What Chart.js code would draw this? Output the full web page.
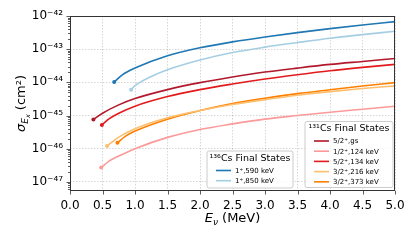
<!DOCTYPE html>
<html>
<head>
<meta charset="utf-8">
<script src="https://cdn.jsdelivr.net/npm/chart.js@4/dist/chart.umd.min.js"></script>
<style>
    html, body { margin: 0; padding: 0; background: #fff; }
    #wrap { width: 416px; height: 240px; position: relative; }
</style>
</head>
<body>
<div id="wrap"><canvas id="xsec" width="416" height="240"></canvas></div>
<script>
// neutrino energy (MeV) and cross sections (cm^2)
const energy590 = [0.68, 0.8, 1.0, 1.5, 2.0, 2.5, 3.0, 3.5, 4.0, 4.5, 5.0];
const sigma590 = [1.02e-44, 1.66e-44, 2.69e-44, 6.3e-44, 1.1e-43, 1.66e-43, 2.34e-43, 3.16e-43, 4.17e-43, 5.37e-43, 6.76e-43];
const energy850 = [0.94, 1.0, 1.25, 1.5, 2.0, 2.5, 3.0, 3.5, 4.0, 4.5, 5.0];
const sigma850 = [6.0e-45, 7.9e-45, 1.5e-44, 2.4e-44, 4.7e-44, 7.9e-44, 1.15e-43, 1.58e-43, 2.14e-43, 2.75e-43, 3.47e-43];
const energyGs = [0.36, 0.5, 0.75, 1.0, 1.5, 2.0, 2.5, 3.0, 3.5, 4.0, 4.5, 5.0];
const sigmaGs = [7.6e-46, 1.17e-45, 2.09e-45, 3.24e-45, 6.03e-45, 9.8e-45, 1.45e-44, 2.04e-44, 2.69e-44, 3.47e-44, 4.27e-44, 5.25e-44];
const energy124 = [0.48, 0.6, 0.75, 1.0, 1.5, 2.0, 2.5, 3.0, 3.5, 4.0, 4.5, 5.0];
const sigma124 = [2.7e-47, 4.2e-47, 6.0e-47, 1.0e-46, 2.19e-46, 3.8e-46, 5.6e-46, 7.8e-46, 1.0e-45, 1.26e-45, 1.55e-45, 1.9e-45];
const energy134 = [0.49, 0.6, 0.75, 1.0, 1.5, 2.0, 2.5, 3.0, 3.5, 4.0, 4.5, 5.0];
const sigma134 = [5.2e-46, 7.9e-46, 1.17e-45, 1.91e-45, 3.72e-45, 6.03e-45, 8.9e-45, 1.26e-44, 1.7e-44, 2.24e-44, 2.82e-44, 3.47e-44];
const energy216 = [0.57, 0.75, 1.0, 1.5, 2.0, 2.5, 3.0, 3.5, 4.0, 4.5, 5.0];
const sigma216 = [1.2e-46, 2.24e-46, 3.98e-46, 8.5e-46, 1.41e-45, 2.14e-45, 3.0e-45, 4.07e-45, 5.25e-45, 6.5e-45, 7.8e-45];
const energy373 = [0.73, 0.85, 1.0, 1.5, 2.0, 2.5, 3.0, 3.5, 4.0, 4.5, 5.0];
const sigma373 = [1.51e-46, 2.34e-46, 3.39e-46, 7.76e-46, 1.41e-45, 2.29e-45, 3.3e-45, 4.57e-45, 6.0e-45, 7.8e-45, 9.8e-45];

const labels136 = ['1\u207A,590 keV', '1\u207A,850 keV'];
const labels131 = ['5/2\u207A,gs', '1/2\u207A,124 keV', '5/2\u207A,134 keV', '3/2\u207A,216 keV', '3/2\u207A,373 keV'];
const legendTitle136 = '\u00B9\u00B3\u2076Cs Final States';
const legendTitle131 = '\u00B9\u00B3\u00B9Cs Final States';

const xTicks = [0, 0.5, 1.0, 1.5, 2.0, 2.5, 3.0, 3.5, 4.0, 4.5, 5.0];
const yDecades = [-47, -46, -45, -44, -43, -42];
const yMin = 5.3e-48;
const yMax = 1e-42;

const FONT = "'DejaVu Sans', sans-serif";
const SUP = { '-': '\u207B', '0': '\u2070', '1': '\u00B9', '2': '\u00B2', '3': '\u00B3', '4': '\u2074',
    '5': '\u2075', '6': '\u2076', '7': '\u2077', '8': '\u2078', '9': '\u2079' };

function toSup(n) {
    return String(n).split('').map(c => SUP[c] || c).join('');
}

function isDecade(v) {
    const l = Math.log10(v);
    return Math.abs(l - Math.round(l)) < 1e-6;
}

function series(energy, sigma) {
    return energy.map((e, i) => ({ x: e, y: sigma[i] }));
}

function makeSet(label, energy, sigma, color) {
    return {
        label,
        data: series(energy, sigma),
        borderColor: color,
        backgroundColor: color,
        borderWidth: 1.6,
        cubicInterpolationMode: 'monotone',
        pointRadius: ctx => (ctx.dataIndex === 0 ? 2 : 0),
        pointHoverRadius: 0,
        pointBorderWidth: 0
    };
}

const datasets136 = [
    makeSet(labels136[0], energy590, sigma590, '#1f77b4'),
    makeSet(labels136[1], energy850, sigma850, '#a6cee3')
];
const datasets131 = [
    makeSet(labels131[0], energyGs, sigmaGs, '#b2182b'),
    makeSet(labels131[1], energy124, sigma124, '#fb9a99'),
    makeSet(labels131[2], energy134, sigma134, '#e31a1c'),
    makeSet(labels131[3], energy216, sigma216, '#fdbf6f'),
    makeSet(labels131[4], energy373, sigma373, '#ff7f00')
];

function drawLegend(ctx, box, title, sets) {
    ctx.save();
    ctx.beginPath();
    ctx.roundRect(box.x, box.y, box.w, box.h, 2);
    ctx.fillStyle = 'rgba(255,255,255,0.85)';
    ctx.fill();
    ctx.strokeStyle = '#cccccc';
    ctx.lineWidth = 1;
    ctx.stroke();

    ctx.fillStyle = '#000';
    ctx.textBaseline = 'middle';
    ctx.textAlign = 'center';
    ctx.font = '9.5px ' + FONT;
    ctx.fillText(title, box.x + box.w / 2, box.y + 7.5);

    ctx.textAlign = 'left';
    ctx.font = '7px ' + FONT;
    sets.forEach((ds, i) => {
        const y = box.y + 19.5 + i * 10.2;
        ctx.strokeStyle = ds.borderColor;
        ctx.lineWidth = 1.6;
        ctx.beginPath();
        ctx.moveTo(box.x + 9, y);
        ctx.lineTo(box.x + 24, y);
        ctx.stroke();
        ctx.fillText(ds.label, box.x + 28, y + 0.5);
    });
    ctx.restore();
}

const decorations = {
    id: 'decorations',
    afterDatasetsDraw(chart) {
        const { ctx, chartArea: a, scales } = chart;

        // frame
        ctx.save();
        ctx.strokeStyle = '#333';
        ctx.lineWidth = 1;
        ctx.strokeRect(a.left + 0.5, a.top + 0.5, a.right - a.left - 1, a.bottom - a.top - 1);

        // tick marks
        ctx.beginPath();
        scales.y.ticks.forEach(t => {
            const py = Math.round(scales.y.getPixelForValue(t.value)) + 0.5;
            const len = isDecade(t.value) ? 3.5 : 2;
            ctx.moveTo(a.left, py);
            ctx.lineTo(a.left - len, py);
        });
        scales.x.ticks.forEach(t => {
            const px = Math.round(scales.x.getPixelForValue(t.value)) + 0.5;
            ctx.moveTo(px, a.bottom);
            ctx.lineTo(px, a.bottom + 3.5);
        });
        ctx.lineWidth = 0.8;
        ctx.stroke();

        // x axis title: E_nu (MeV)
        ctx.fillStyle = '#000';
        ctx.textBaseline = 'alphabetic';
        ctx.textAlign = 'left';
        const cx = (a.left + a.right) / 2;
        const by = 222;
        ctx.font = 'italic 13px ' + FONT;
        const wE = ctx.measureText('E').width;
        ctx.font = 'italic 9px ' + FONT;
        const wNu = ctx.measureText('\u03BD').width;
        ctx.font = '13px ' + FONT;
        const wRest = ctx.measureText(' (MeV)').width;
        let x0 = cx - (wE + wNu + wRest) / 2;
        ctx.font = 'italic 13px ' + FONT;
        ctx.fillText('E', x0, by);
        ctx.font = 'italic 9px ' + FONT;
        ctx.fillText('\u03BD', x0 + wE, by + 3);
        ctx.font = '13px ' + FONT;
        ctx.fillText(' (MeV)', x0 + wE + wNu, by);

        // y axis title: sigma_{E_x} (cm^2)
        ctx.translate(24.5, (a.top + a.bottom) / 2);
        ctx.rotate(-Math.PI / 2);
        ctx.font = 'italic 13px ' + FONT;
        const wS = ctx.measureText('\u03C3').width;
        ctx.font = 'italic 9px ' + FONT;
        const wSubE = ctx.measureText('E').width;
        ctx.font = 'italic 6.5px ' + FONT;
        const wSubX = ctx.measureText('x').width;
        ctx.font = '13px ' + FONT;
        const wUnit = ctx.measureText(' (cm\u00B2)').width;
        x0 = -(wS + wSubE + wSubX + wUnit) / 2;
        ctx.font = 'italic 13px ' + FONT;
        ctx.fillText('\u03C3', x0, 0);
        ctx.font = 'italic 9px ' + FONT;
        ctx.fillText('E', x0 + wS, 3);
        ctx.font = 'italic 6.5px ' + FONT;
        ctx.fillText('x', x0 + wS + wSubE, 5);
        ctx.font = '13px ' + FONT;
        ctx.fillText(' (cm\u00B2)', x0 + wS + wSubE + wSubX, 0);
        ctx.restore();

        drawLegend(ctx, { x: 207, y: 151, w: 86, h: 37 }, legendTitle136, chart.data.datasets.slice(0, 2));
        drawLegend(ctx, { x: 305, y: 121.5, w: 88, h: 66 }, legendTitle131, chart.data.datasets.slice(2));
    }
};

const gridColor = 'rgba(0,0,0,0.2)';

new Chart(document.getElementById('xsec'), {
    type: 'line',
    data: { datasets: [...datasets136, ...datasets131] },
    options: {
        responsive: false,
        animation: false,
        layout: { padding: { top: 16, right: 21, left: 0, bottom: 0 } },
        plugins: {
            legend: { display: false },
            tooltip: { enabled: false }
        },
        scales: {
            x: {
                type: 'linear',
                min: 0,
                max: 5,
                afterFit: axis => { axis.height = 49; },
                afterBuildTicks: axis => { axis.ticks = xTicks.map(v => ({ value: v })); },
                grid: { color: gridColor, lineWidth: 0.8, drawTicks: false },
                border: { display: false, dash: [1.5, 1.5] },
                ticks: {
                    autoSkip: false,
                    maxRotation: 0,
                    padding: 8,
                    color: '#000',
                    font: { family: FONT, size: 12 },
                    callback: v => v.toFixed(1)
                }
            },
            y: {
                type: 'logarithmic',
                min: yMin,
                max: yMax,
                afterFit: axis => { axis.width = 70; },
                afterBuildTicks: axis => {
                    const t = [];
                    for (let d = yDecades[0] - 1; d <= yDecades[yDecades.length - 1]; d++) {
                        for (let m = 1; m <= 9; m++) {
                            const v = m * Math.pow(10, d);
                            if (v >= yMin * 0.999 && v <= yMax * 1.001) t.push({ value: v });
                        }
                    }
                    axis.ticks = t;
                },
                grid: {
                    color: ctx => (ctx.tick && isDecade(ctx.tick.value) ? gridColor : 'rgba(0,0,0,0)'),
                    lineWidth: 0.8,
                    drawTicks: false
                },
                border: { display: false, dash: [1.5, 1.5] },
                ticks: {
                    autoSkip: false,
                    padding: 7,
                    color: '#000',
                    font: { family: FONT, size: 12 },
                    callback: v => {
                        if (!isDecade(v)) return '';
                        const exp = Math.round(Math.log10(v));
                        return yDecades.includes(exp) ? '10' + toSup(exp) : '';
                    }
                }
            }
        }
    },
    plugins: [decorations]
});
</script>
</body>
</html>
